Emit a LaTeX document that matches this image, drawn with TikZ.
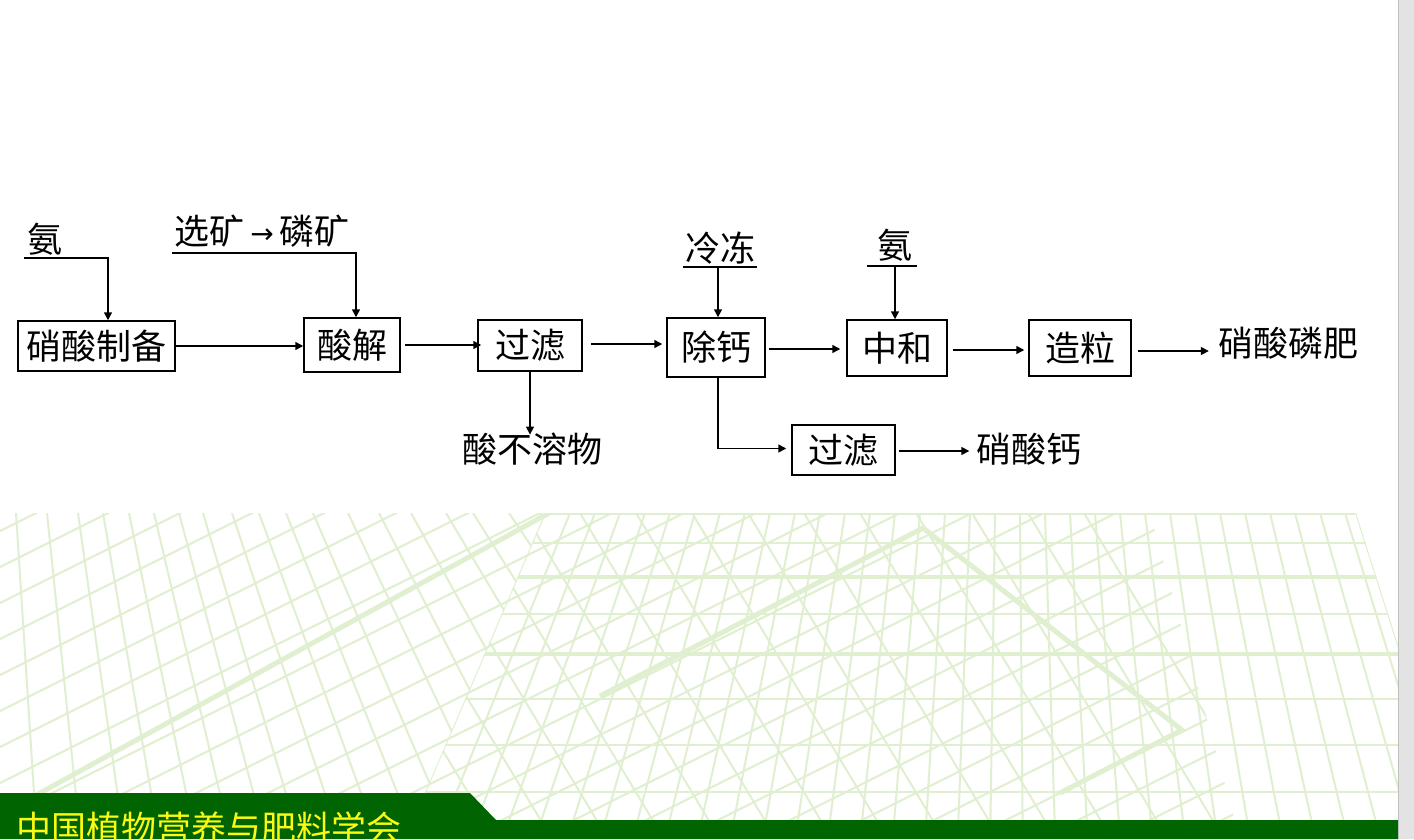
\documentclass[tikz,border=0pt]{standalone}
\usepackage{fontspec}
\newfontfamily\cjk{Noto Sans CJK SC}
\newfontfamily\dejavu{DejaVu Sans}
\usetikzlibrary{arrows.meta}
\definecolor{gridg}{RGB}{224,239,208}
\definecolor{footg}{RGB}{0,100,0}
\definecolor{footy}{RGB}{250,250,20}
\definecolor{stripg}{RGB}{227,227,227}
\begin{document}
\begin{tikzpicture}[x=1pt,y=-1pt,
  box/.style={draw=black, line width=1.5pt, inner sep=0pt, font=\cjk\fontsize{35}{38}\selectfont},
  lbl/.style={inner sep=0pt, font=\cjk\fontsize{35}{38}\selectfont},
  arr/.style={line width=1.5pt, -{Triangle[length=8pt,width=8pt]}},
  ln/.style={line width=1.5pt},
  gl/.style={draw=gridg, line width=2pt},
  gt/.style={draw=gridg, line width=5pt}]
\useasboundingbox (0,0) rectangle (1414,839);
\fill[white] (0,0) rectangle (1414,839);

% ---------- background grid ----------
\begin{scope}
  \clip (0,513) -- (545,513) -- (405,839) -- (0,839) -- cycle;
  \foreach \xt in {16,47,78,103,129,154,179,203,232,259,286,313,348,379,411,446,473,509,540}
    \draw[gl] (\xt,513) -- ({-36+(\xt+36)*1.403},839);
\end{scope}
\begin{scope}
  \clip (0,513) -- (1150,513) -- (1240,839) -- (0,839) -- cycle;
  \foreach \c in {531,567,...,1467}
    \draw[gl] (0,\c) -- (1300,\c-650);
  \draw[gt] (0,815) -- (549,513);
\end{scope}
\begin{scope}
  \clip (545,513) -- (1356,513) -- (1398,645) -- (1398,839) -- (405,839) -- cycle;
  \foreach \yy in {514,543,614,699,745,792}
    \draw[gl] (300,\yy) -- (1400,\yy);
  \foreach \yy in {577,654}
    \draw[gl, line width=3.5pt] (300,\yy) -- (1400,\yy);
  \foreach \xt in {545,570,...,1345}
    \draw[gl] (\xt,513) -- ({1011+(\xt-1011)*1.3007},839);
  \draw[gl] (1356,513) -- (1412,689);
  \begin{scope}
    \clip (0,513) -- (1150,513) -- (1240,839) -- (0,839) -- cycle;
    \foreach \xt in {300,356,...,1100}
      \draw[gl] (\xt,513) -- (\xt+196,839);
  \end{scope}
  \draw[gt] (600,696) -- (923,528) -- (1182,730) -- (1060,793);
\end{scope}

% ---------- footer ----------
\fill[footg] (0,793) -- (470,793) -- (496,820) -- (1398,820) -- (1398,839) -- (0,839) -- cycle;
\node[anchor=base west, inner sep=0pt, text=footy, font=\cjk\fontsize{35}{38}\selectfont] (foot) at (16,841) {中国植物营养与肥料学会};
\fill[stripg] (1398,0) rectangle (1414,839);
\draw[black!25, line width=1pt] (1398.5,0) -- (1398.5,839);

% ---------- flow chart ----------
\node[box, minimum width=157pt, minimum height=50pt] (b1) at (96.5,346) {硝酸制备};
\node[box, minimum width=96pt, minimum height=54pt] (b2) at (352,345) {酸解};
\node[box, minimum width=104pt, minimum height=51pt] (b3) at (530,345.5) {过滤};
\node[box, minimum width=98pt, minimum height=59pt] (b4) at (716,347.5) {除钙};
\node[box, minimum width=100pt, minimum height=56pt] (b5) at (897,348) {中和};
\node[box, minimum width=102pt, minimum height=56pt] (b6) at (1080,348) {造粒};
\node[box, minimum width=103pt, minimum height=50pt] (b7) at (843.5,450) {过滤};

\node[lbl] (an1) at (45,239) {氨};
\node[lbl] (xk) at (262,231) {选矿\kern6pt\raisebox{1pt}{\dejavu\fontsize{28}{30}\selectfont →}\kern6pt 磷矿};
\node[lbl] (ld) at (720,248) {冷冻};
\node[lbl] (an2) at (895,245) {氨};
\node[lbl] (sbr) at (532,449) {酸不溶物};
\node[lbl] (xslf) at (1288,343) {硝酸磷肥};
\node[lbl] (xsg) at (1029,449) {硝酸钙};

\coordinate (u1) at (24,258);
\coordinate (u2) at (172,253);
\coordinate (u3a) at (683,267);
\coordinate (u3b) at (757,267);
\coordinate (u3m) at (718,267);
\coordinate (u4a) at (867,266);
\coordinate (u4b) at (917,266);
\coordinate (u4m) at (895,266);

\draw[arr] (u1) -| ([xshift=11.5pt]b1.north);
\draw[arr] (u2) -| ([xshift=4pt]b2.north);
\draw[ln] (u3a) -- (u3b);
\draw[arr] (u3m) -- (b4.north -| u3m);
\draw[ln] (u4a) -- (u4b);
\draw[arr] (u4m) -- (b5.north -| u4m);

\draw[arr] (b1.east) -- (b1.east -| b2.west);
\draw[arr] ([xshift=4pt]b2.east) -- ([xshift=4pt]b2.east -| b3.west);
\draw[arr] ([xshift=8pt,yshift=1.5pt]b3.east) -- ([yshift=1.5pt,xshift=-4pt]b3.east -| b4.west);
\draw[arr] ([xshift=3pt,yshift=-1.5pt]b4.east) -- ([xshift=-6pt,yshift=-1.5pt]b4.east -| b5.west);
\draw[arr] ([xshift=5pt,yshift=-2pt]b5.east) -- ([xshift=-4pt,yshift=-2pt]b5.east -| b6.west);
\draw[arr] ([xshift=6pt,yshift=-3pt]b6.east) -- ([xshift=-9pt,yshift=-3pt]b6.east -| xslf.west);
\draw[arr] (b3.south) -- ([yshift=-2pt]b3.south |- sbr.north);
\draw[arr] ([xshift=2pt]b4.south) |- ([xshift=-5pt,yshift=1.5pt]b7.west);
\draw[arr] ([xshift=3pt,yshift=-1pt]b7.east) -- ([xshift=-7pt,yshift=-1pt]b7.east -| xsg.west);
\end{tikzpicture}
\end{document}
